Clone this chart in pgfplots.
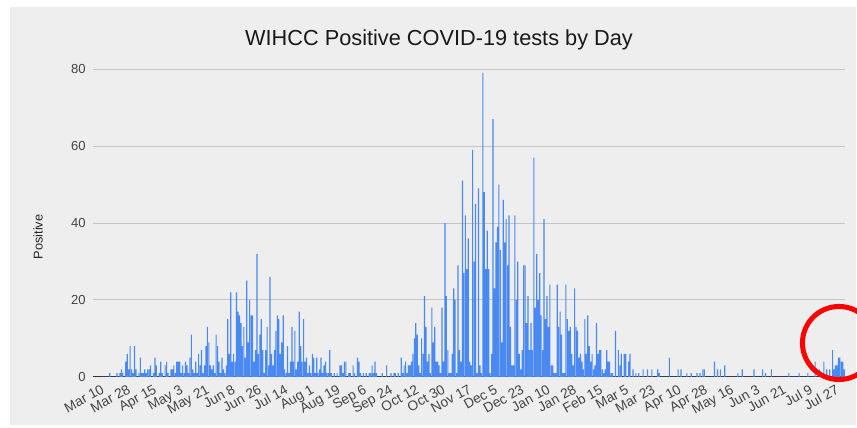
\documentclass[border=0pt]{standalone}
\usepackage{pgfplots}
\pgfplotsset{compat=1.18}
\usepackage{pgfplotstable}
\usepackage{fontspec}
\setmainfont{Liberation Sans}
\definecolor{bg}{HTML}{EEEEEE}
\definecolor{barblue}{HTML}{4A88F2}
\definecolor{gridc}{HTML}{C4C4C4}
\definecolor{txt}{HTML}{444444}
\definecolor{annot}{HTML}{FF0000}

% daily positive tests, day 0 = Mar 10 (2020)
\pgfplotstableread[row sep=\\]{
v\\
0\\ 0\\ 0\\ 0\\ 0\\ 1\\ 0\\ 0\\ 0\\ 0\\
1\\ 0\\ 1\\ 2\\ 1\\ 0\\ 4\\ 6\\ 2\\ 8\\
2\\ 1\\ 8\\ 2\\ 0\\ 1\\ 5\\ 1\\ 1\\ 2\\
1\\ 2\\ 2\\ 3\\ 0\\ 1\\ 5\\ 3\\ 0\\ 1\\
4\\ 1\\ 0\\ 3\\ 4\\ 1\\ 0\\ 2\\ 2\\ 3\\
1\\ 4\\ 4\\ 4\\ 1\\ 3\\ 1\\ 4\\ 3\\ 1\\
5\\ 11\\ 2\\ 1\\ 4\\ 1\\ 6\\ 3\\ 7\\ 1\\
3\\ 8\\ 13\\ 9\\ 3\\ 2\\ 3\\ 1\\ 11\\ 8\\
4\\ 1\\ 5\\ 2\\ 1\\ 3\\ 15\\ 6\\ 22\\ 4\\
6\\ 4\\ 22\\ 17\\ 16\\ 14\\ 8\\ 13\\ 5\\ 25\\
9\\ 20\\ 16\\ 16\\ 4\\ 7\\ 32\\ 6\\ 11\\ 15\\
7\\ 1\\ 7\\ 13\\ 3\\ 26\\ 6\\ 3\\ 7\\ 12\\
16\\ 15\\ 6\\ 9\\ 16\\ 2\\ 1\\ 8\\ 1\\ 4\\
13\\ 4\\ 12\\ 2\\ 4\\ 17\\ 8\\ 4\\ 15\\ 4\\
5\\ 1\\ 3\\ 1\\ 6\\ 5\\ 1\\ 5\\ 1\\ 2\\
5\\ 1\\ 3\\ 4\\ 1\\ 1\\ 7\\ 1\\ 0\\ 1\\
0\\ 1\\ 0\\ 3\\ 3\\ 1\\ 4\\ 4\\ 0\\ 1\\
1\\ 0\\ 3\\ 1\\ 0\\ 5\\ 4\\ 1\\ 0\\ 1\\
0\\ 1\\ 0\\ 1\\ 1\\ 3\\ 1\\ 4\\ 1\\ 0\\
0\\ 0\\ 1\\ 0\\ 0\\ 3\\ 0\\ 0\\ 1\\ 0\\
1\\ 1\\ 0\\ 1\\ 0\\ 5\\ 1\\ 3\\ 4\\ 1\\
3\\ 3\\ 4\\ 6\\ 10\\ 14\\ 11\\ 3\\ 1\\ 10\\
6\\ 21\\ 13\\ 4\\ 6\\ 1\\ 18\\ 9\\ 13\\ 4\\
4\\ 3\\ 1\\ 18\\ 4\\ 40\\ 21\\ 7\\ 1\\ 1\\
6\\ 23\\ 20\\ 1\\ 29\\ 7\\ 4\\ 51\\ 27\\ 42\\
28\\ 36\\ 4\\ 3\\ 59\\ 30\\ 45\\ 1\\ 49\\ 3\\
1\\ 79\\ 48\\ 28\\ 38\\ 28\\ 1\\ 6\\ 67\\ 23\\
35\\ 39\\ 50\\ 33\\ 9\\ 46\\ 35\\ 41\\ 29\\ 42\\
13\\ 3\\ 3\\ 42\\ 20\\ 30\\ 6\\ 2\\ 7\\ 29\\
29\\ 14\\ 21\\ 7\\ 14\\ 7\\ 57\\ 18\\ 32\\ 20\\
27\\ 16\\ 7\\ 41\\ 15\\ 21\\ 13\\ 24\\ 3\\ 3\\
1\\ 1\\ 24\\ 13\\ 17\\ 11\\ 1\\ 1\\ 24\\ 15\\
12\\ 13\\ 6\\ 3\\ 23\\ 13\\ 12\\ 5\\ 6\\ 4\\
2\\ 15\\ 6\\ 16\\ 8\\ 4\\ 6\\ 2\\ 3\\ 14\\
6\\ 7\\ 7\\ 2\\ 1\\ 2\\ 7\\ 4\\ 4\\ 1\\
1\\ 0\\ 12\\ 0\\ 7\\ 3\\ 6\\ 0\\ 6\\ 6\\
0\\ 4\\ 6\\ 0\\ 2\\ 0\\ 1\\ 0\\ 1\\ 0\\
0\\ 2\\ 0\\ 0\\ 2\\ 0\\ 0\\ 2\\ 0\\ 0\\
0\\ 2\\ 1\\ 0\\ 0\\ 0\\ 0\\ 0\\ 0\\ 5\\
0\\ 0\\ 0\\ 0\\ 0\\ 2\\ 0\\ 2\\ 0\\ 0\\
0\\ 1\\ 0\\ 0\\ 1\\ 0\\ 0\\ 0\\ 1\\ 0\\
1\\ 0\\ 2\\ 2\\ 0\\ 0\\ 0\\ 0\\ 0\\ 0\\
4\\ 0\\ 2\\ 0\\ 2\\ 0\\ 0\\ 3\\ 0\\ 0\\
0\\ 0\\ 0\\ 0\\ 0\\ 0\\ 1\\ 0\\ 0\\ 2\\
0\\ 0\\ 0\\ 0\\ 0\\ 0\\ 0\\ 2\\ 0\\ 0\\
0\\ 0\\ 0\\ 2\\ 0\\ 1\\ 0\\ 0\\ 0\\ 2\\
0\\ 0\\ 0\\ 0\\ 0\\ 0\\ 0\\ 0\\ 0\\ 0\\
0\\ 1\\ 0\\ 0\\ 0\\ 0\\ 0\\ 0\\ 1\\ 0\\
0\\ 0\\ 0\\ 0\\ 1\\ 0\\ 0\\ 0\\ 0\\ 4\\
0\\ 0\\ 2\\ 0\\ 0\\ 4\\ 0\\ 2\\ 0\\ 2\\
0\\ 7\\ 2\\ 3\\ 3\\ 5\\ 5\\ 4\\ 4\\ 2\\
}\daily

\begin{document}
\begin{tikzpicture}
\useasboundingbox (-69.75pt,-38.25pt) rectangle (573pt,282.75pt);
\fill[white] (-69.75pt,-38.25pt) rectangle (573pt,282.75pt);
\fill[bg] (-62.25pt,-36pt) rectangle (572.25pt,277.5pt);
\begin{axis}[
  at={(0pt,0pt)}, anchor=south west,
  width=564pt, height=231pt, scale only axis,
  xmin=-6.5, xmax=509.5, ymin=0, ymax=80,
  ytick={0,20,40,60,80},
  xtick={0,18,...,504},
  xticklabels={Mar 10,Mar 28,Apr 15,May 3,May 21,Jun 8,Jun 26,Jul 14,Aug 1,Aug 19,Sep 6,Sep 24,Oct 12,Oct 30,Nov 17,Dec 5,Dec 23,Jan 10,Jan 28,Feb 15,Mar 5,Mar 23,Apr 10,Apr 28,May 16,Jun 3,Jun 21,Jul 9,Jul 27},
  ymajorgrids, grid style={gridc, line width=0.75pt},
  major tick length=0pt,
  axis x line*=bottom, axis y line*=left,
  x axis line style={draw=black!80, line width=0.75pt, -},
  y axis line style={draw=none},
  tick label style={font=\fontsize{9.8}{11}\selectfont, text=txt},
  /pgf/number format/assume math mode=true,
  xticklabel style={font=\fontsize{10.3}{12}\selectfont, yshift=-5pt, xshift=-1.5pt, rotate=29, anchor=north east, inner sep=0pt},
  yticklabel style={xshift=-2pt},
]
\addplot[ybar, bar width=0.8, bar shift=0pt, fill=barblue, draw=none] table[x expr=\coordindex, y=v] {\daily};
\end{axis}
\node[text=black!90, font=\fontsize{16.3}{19}\selectfont] at (259.5pt,252.75pt) {WIHCC Positive COVID-19 tests by Day};
\node[text=black!85, rotate=90, font=\fontsize{9.6}{11}\selectfont] at (-41.25pt,105pt) {Positive};
\begin{scope}
\clip (-69.75pt,-38.25pt) rectangle (573pt,282.75pt);
\draw[annot, line width=3.75pt] (559.5pt,25.5pt) circle (27.4pt);
\end{scope}
\end{tikzpicture}
\end{document}
